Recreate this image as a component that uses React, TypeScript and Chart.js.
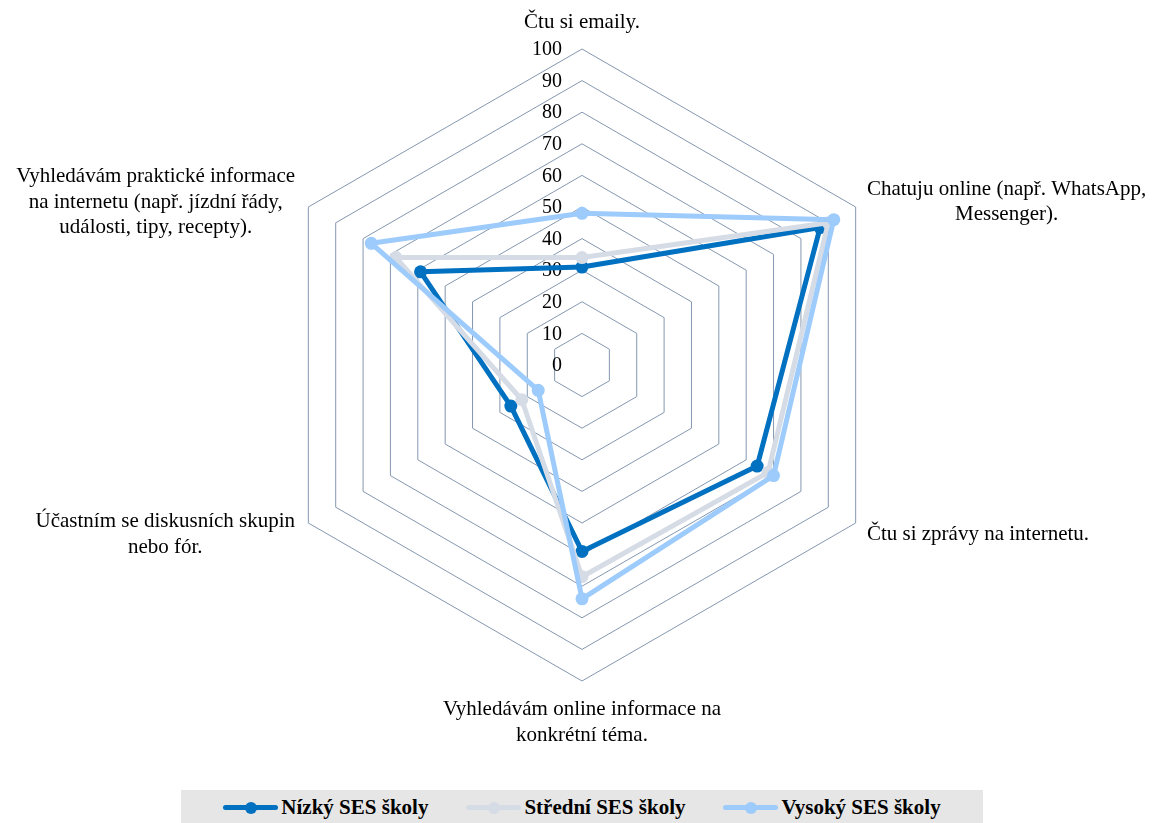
import React, { useEffect, useRef } from "react";
import { Chart, registerables } from "chart.js";

Chart.register(...registerables);

const categories: string[][] = [
  ["Čtu si emaily."],
  ["Chatuju online (např. WhatsApp,", "Messenger)."],
  ["Čtu si zprávy na internetu."],
  ["Vyhledávám online informace na", "konkrétní téma."],
  ["Účastním se diskusních skupin", "nebo fór."],
  ["Vyhledávám praktické informace", "na internetu (např. jízdní řády,", "události, tipy, recepty)."],
];

const seriesNames = ["Nízký SES školy", "Střední SES školy", "Vysoký SES školy"];
const nizky = [31, 87, 64, 59, 26, 59];
const stredni = [34, 90, 68, 67, 22, 68];
const vysoky = [48, 92, 70, 74, 16, 77];
const seriesColors = ["#0070C0", "#D6DCE5", "#9DCBFB"];
const tickValues = [0, 10, 20, 30, 40, 50, 60, 70, 80, 90, 100];

const FONT = '"Liberation Serif", "Times New Roman", serif';
const LH = 25.5;

const labelPlugin = {
  id: "customLabels",
  beforeDatasetsDraw(chart: any) {
    const scale = chart.scales.r;
    const ctx = chart.ctx as CanvasRenderingContext2D;
    ctx.save();
    ctx.fillStyle = "#000";
    ctx.font = `20px ${FONT}`;
    ctx.textAlign = "right";
    ctx.textBaseline = "middle";
    tickValues.forEach((v) => {
      const d = scale.getDistanceFromCenterForValue(v);
      ctx.fillText(String(v), scale.xCenter - 20, scale.yCenter - d + 1);
    });
    ctx.font = `21px ${FONT}`;
    ctx.textAlign = "center";
    categories.forEach((lines, i) => {
      const p = scale.getPointPosition(i, scale.drawingArea + 13);
      const dx = p.x - scale.xCenter;
      const dy = p.y - scale.yCenter;
      const w = Math.max(...lines.map((l) => ctx.measureText(l).width));
      let cx: number;
      if (Math.abs(dx) < 1) cx = p.x;
      else if (dx > 0) cx = p.x + w / 2;
      else cx = p.x - w / 2 - 2;
      const h = lines.length * LH;
      let top: number;
      if (Math.abs(dx) < 1) top = dy < 0 ? p.y - h - 1 : p.y + 3;
      else top = p.y - h / 2 + (dy > 0 ? 5 : 1.5);
      lines.forEach((l, k) => ctx.fillText(l, cx, top + LH * (k + 0.5)));
    });
    ctx.restore();
  },
};

function Marker({ color }: { color: string }) {
  return (
    <div style={{ position: "relative", width: 55, height: 12, flex: "none" }}>
      <div
        style={{
          position: "absolute",
          left: 0,
          top: 3.5,
          width: 55,
          height: 5,
          borderRadius: 3,
          background: color,
        }}
      />
      <div
        style={{
          position: "absolute",
          left: 22,
          top: 0,
          width: 12,
          height: 12,
          borderRadius: "50%",
          background: color,
        }}
      />
    </div>
  );
}

export default function App() {
  const ref = useRef<HTMLCanvasElement | null>(null);

  useEffect(() => {
    if (!ref.current) return;
    const allData = [nizky, stredni, vysoky];
    const chart = new Chart(ref.current, {
      type: "radar",
      data: {
        labels: categories.map((c) => c.join(" ")),
        datasets: allData.map((d, i) => ({
          label: seriesNames[i],
          data: d,
          borderColor: seriesColors[i],
          backgroundColor: seriesColors[i],
          pointBackgroundColor: seriesColors[i],
          pointBorderColor: seriesColors[i],
          pointBorderWidth: 0,
          pointRadius: 6.5,
          borderWidth: 5,
          borderJoinStyle: "round",
          borderCapStyle: "round",
          fill: false,
          order: 3 - i,
        })),
      },
      options: {
        responsive: false,
        animation: false,
        layout: { padding: { left: 266, top: 49, right: 258, bottom: 142 } },
        plugins: {
          legend: { display: false },
          tooltip: { enabled: false },
        },
        scales: {
          r: {
            min: 0,
            max: 100,
            ticks: { display: false, stepSize: 10 },
            pointLabels: { display: false },
            angleLines: { display: false },
            grid: { color: "#8497B0", lineWidth: 1, circular: false },
          },
        },
      },
      plugins: [labelPlugin],
    });
    return () => chart.destroy();
  }, []);

  return (
    <div
      style={{
        position: "fixed",
        left: 0,
        top: 0,
        width: 1156,
        height: 823,
        background: "#fff",
        overflow: "hidden",
      }}
    >
      <canvas ref={ref} width={1156} height={823} style={{ display: "block" }} />
      <div
        style={{
          position: "absolute",
          left: 181,
          top: 790,
          width: 802,
          height: 33,
          background: "#E7E6E6",
          display: "flex",
          alignItems: "center",
          justifyContent: "center",
          gap: 38,
          fontFamily: FONT,
          fontWeight: "bold",
          fontSize: 21,
          color: "#000",
          paddingTop: 2,
          boxSizing: "border-box",
        }}
      >
        {seriesNames.map((n, i) => (
          <div key={n} style={{ display: "flex", alignItems: "center" }}>
            <Marker color={seriesColors[i]} />
            <span style={{ marginLeft: 3, whiteSpace: "nowrap" }}>{n}</span>
          </div>
        ))}
      </div>
    </div>
  );
}
